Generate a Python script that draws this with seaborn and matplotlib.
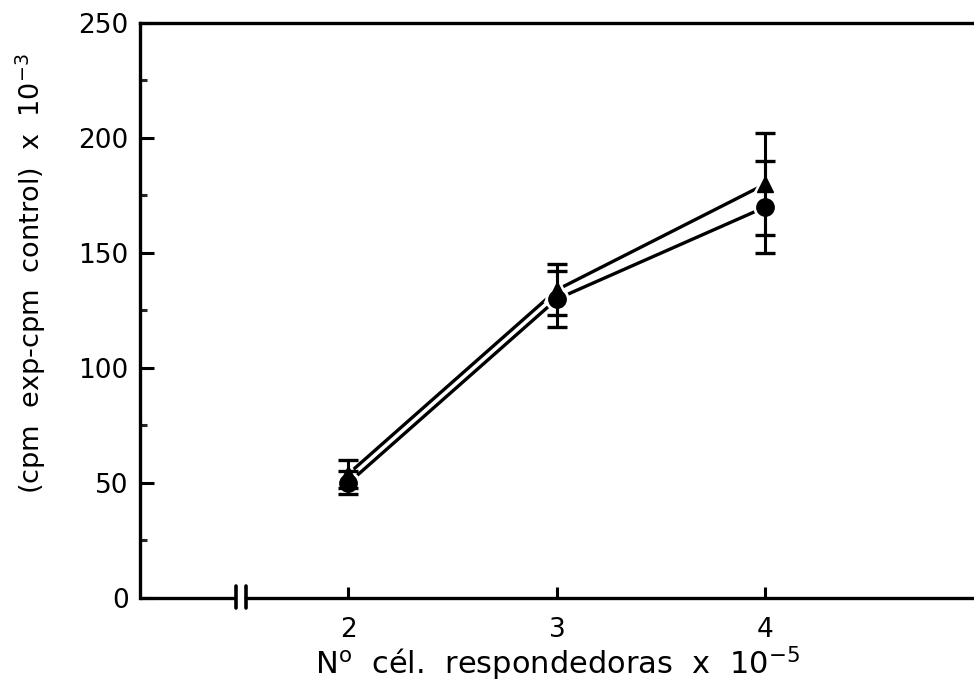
import matplotlib
matplotlib.use("Agg")
import matplotlib.pyplot as plt
import matplotlib.transforms as mtransforms
from matplotlib.ticker import MultipleLocator
import seaborn as sns
import pandas as pd

# ---- data ----
cells = [2, 3, 4]
tri_vals = [54, 134, 180]
tri_err = [6, 11, 22]
circ_vals = [50, 130, 170]
circ_err = [5, 12, 20]
y_ticks = [0, 50, 100, 150, 200, 250]
x_ticks = [2, 3, 4]

df = pd.DataFrame({
    "x": cells * 2,
    "y": tri_vals + circ_vals,
    "serie": ["tri"] * 3 + ["circ"] * 3,
})

sns.set_style("ticks")
plt.rcParams["font.family"] = ["DejaVu Sans"]
plt.rcParams["mathtext.fontset"] = "dejavusans"

fig = plt.figure(figsize=(9.74, 6.86), dpi=100)
ax = fig.add_axes([0.1437, 0.1283, 0.8563, 0.8382])

sns.lineplot(data=df, x="x", y="y", hue="serie", style="serie",
             palette={"tri": "black", "circ": "black"},
             markers={"tri": "^", "circ": "o"}, dashes=False,
             linewidth=2.4, markersize=14, markeredgecolor="white",
             markeredgewidth=3.5, legend=False, ax=ax, zorder=3)

for vals, errs in ((tri_vals, tri_err), (circ_vals, circ_err)):
    ax.errorbar(cells, vals, yerr=errs, fmt="none", ecolor="black",
                elinewidth=2.2, capsize=7, capthick=2.4, zorder=4)
for vals, m, ms in ((tri_vals, "^", 11), (circ_vals, "o", 12.5)):
    ax.plot(cells, vals, linestyle="none", marker=m, markersize=ms,
            color="black", zorder=5)

ax.set_xlim(1, 5)
ax.set_ylim(0, 250)
ax.set_xticks(x_ticks)
ax.set_yticks(y_ticks)
ax.yaxis.set_minor_locator(MultipleLocator(25))
ax.tick_params(axis="both", which="major", direction="in", length=10,
               width=2.2, labelsize=19, colors="black")
ax.tick_params(axis="x", which="major", length=8, pad=14)
ax.tick_params(axis="y", which="major", pad=8)
ax.tick_params(axis="y", which="minor", direction="in", length=5, width=2.2)

for s in ("left", "top", "bottom"):
    ax.spines[s].set_visible(True)
    ax.spines[s].set_linewidth(2.4)
    ax.spines[s].set_color("black")
ax.spines["right"].set_visible(False)
ax.spines["bottom"].set_bounds(1.508, 5)

trans = mtransforms.blended_transform_factory(ax.transData, ax.transAxes)
ax.plot([1, 1.461], [0, 0], transform=trans, color="black", lw=2.4,
        clip_on=False, solid_capstyle="butt", zorder=6)
for bx in (1.461, 1.508):
    ax.plot([bx, bx], [-0.018, 0.02], transform=trans, color="black",
            lw=2.6, clip_on=False, zorder=6)

ax.set_xlabel(r"N$^{\mathrm{o}}$  cél.  respondedoras  x  10$^{-5}$",
              fontsize=22, labelpad=1, color="black")
ax.set_ylabel(r"(cpm  exp-cpm  control)  x  10$^{-3}$", fontsize=19.5,
              color="black")
ax.yaxis.set_label_coords(-0.11, 0.565)

fig.savefig("out.png", dpi=100)
